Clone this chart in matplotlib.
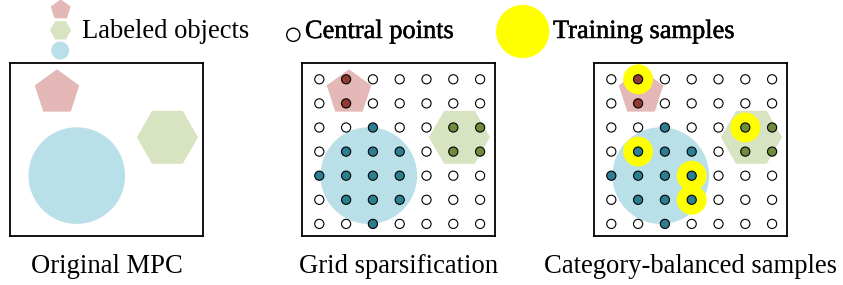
import numpy as np
import matplotlib
matplotlib.use("Agg")
import matplotlib.pyplot as plt
from matplotlib.patches import RegularPolygon, Circle
import matplotlib.patheffects as pe

plt.rcParams['font.family'] = ['Liberation Serif', 'DejaVu Serif']

# ---------------- data ----------------
panel_titles = ["Original MPC", "Grid sparsification", "Category-balanced samples"]
legend_labels = ["Labeled objects", "Central points", "Training samples"]

# class of every grid point (row 0 = top): 0 none, 1 pentagon, 2 circle, 3 hexagon
grid_classes = [
    [0, 1, 0, 0, 0, 0, 0],
    [0, 1, 0, 0, 0, 0, 0],
    [0, 0, 2, 0, 0, 3, 3],
    [0, 2, 2, 2, 0, 3, 3],
    [2, 2, 2, 2, 0, 0, 0],
    [0, 2, 2, 2, 0, 0, 0],
    [0, 0, 2, 0, 0, 0, 0],
]
# category-balanced training samples (row, col)
sample_rows = [0, 2, 3, 4, 5]
sample_cols = [1, 5, 1, 3, 3]

# ---------------- styles ----------------
shape_colors = {"pent": "#E4B8B6", "hex": "#D7E3C1", "circ": "#B9DFE8"}
dot_colors = {0: "white", 1: "#8E3A30", 2: "#2C7E90", 3: "#6E8C3C"}
yellow = "#FFFF00"

W, H = 843, 285
fig = plt.figure(figsize=(W / 100, H / 100), dpi=100)

box_w, box_h = 193, 173
box_lefts = [10, 302, 594]
box_top = 63

# grid layout inside each panel (pixel units)
gx0, gdx = 17.3, 26.8
gy0, gdy = 16.3, 24.1

classes = np.array(grid_classes)
rows, cols = np.indices(classes.shape)


def add_shapes(ax):
    ax.add_patch(RegularPolygon((47, 29.7), 5, radius=23.4, orientation=np.pi,
                                facecolor=shape_colors["pent"], edgecolor='none', zorder=1))
    ax.add_patch(RegularPolygon((157.4, 74.3), 6, radius=30.6, orientation=np.pi / 6,
                                facecolor=shape_colors["hex"], edgecolor='none', zorder=1))
    ax.add_patch(Circle((66.8, 112.6), 48.3, facecolor=shape_colors["circ"],
                        edgecolor='none', zorder=1))


for i, left in enumerate(box_lefts):
    ax = fig.add_axes([left / W, (H - box_top - box_h) / H, box_w / W, box_h / H])
    ax.set_xlim(0, box_w)
    ax.set_ylim(box_h, 0)
    ax.set_xticks([])
    ax.set_yticks([])
    for s in ax.spines.values():
        s.set_linewidth(1.3)
        s.set_color('black')
    add_shapes(ax)
    if i >= 1:
        xs = gx0 + gdx * cols.ravel()
        ys = gy0 + gdy * rows.ravel()
        cs = [dot_colors[c] for c in classes.ravel()]
        if i == 2:
            ax.scatter(gx0 + gdx * np.array(sample_cols), gy0 + gdy * np.array(sample_rows),
                       s=21.5 ** 2, color=yellow, edgecolors='none', zorder=2)
        ax.scatter(xs, ys, s=6.6 ** 2, c=cs, edgecolors='black', linewidths=0.8, zorder=3)
    fig.text((left + box_w / 2) / W, 1 - 273 / H, panel_titles[i], ha='center',
             va='baseline', fontsize=19.2)

# legend overlay
lax = fig.add_axes([0, 0, 1, 1])
lax.set_xlim(0, W)
lax.set_ylim(H, 0)
lax.axis('off')
lax.add_patch(RegularPolygon((60.7, 9.8), 5, radius=10.5, orientation=np.pi,
                             facecolor=shape_colors["pent"], edgecolor='none'))
lax.add_patch(RegularPolygon((60.5, 30.3), 6, radius=10.6, orientation=np.pi / 6,
                             facecolor=shape_colors["hex"], edgecolor='none'))
lax.add_patch(Circle((60.2, 50.5), 9.0, facecolor=shape_colors["circ"], edgecolor='none'))
lax.text(81.7, 38, legend_labels[0], fontsize=19.2, va='baseline', ha='left')

lax.add_patch(Circle((293.3, 34.8), 6.6, facecolor='white', edgecolor='black', linewidth=1.0))
lax.text(305, 38, legend_labels[1], fontsize=19, va='baseline', ha='left',
         path_effects=[pe.withStroke(linewidth=0.35, foreground='black')])

lax.add_patch(Circle((522.7, 31.5), 26.6, facecolor=yellow, edgecolor='none'))
lax.text(553, 38, legend_labels[2], fontsize=19, va='baseline', ha='left',
         path_effects=[pe.withStroke(linewidth=0.35, foreground='black')])

fig.savefig("out.png", dpi=100)
